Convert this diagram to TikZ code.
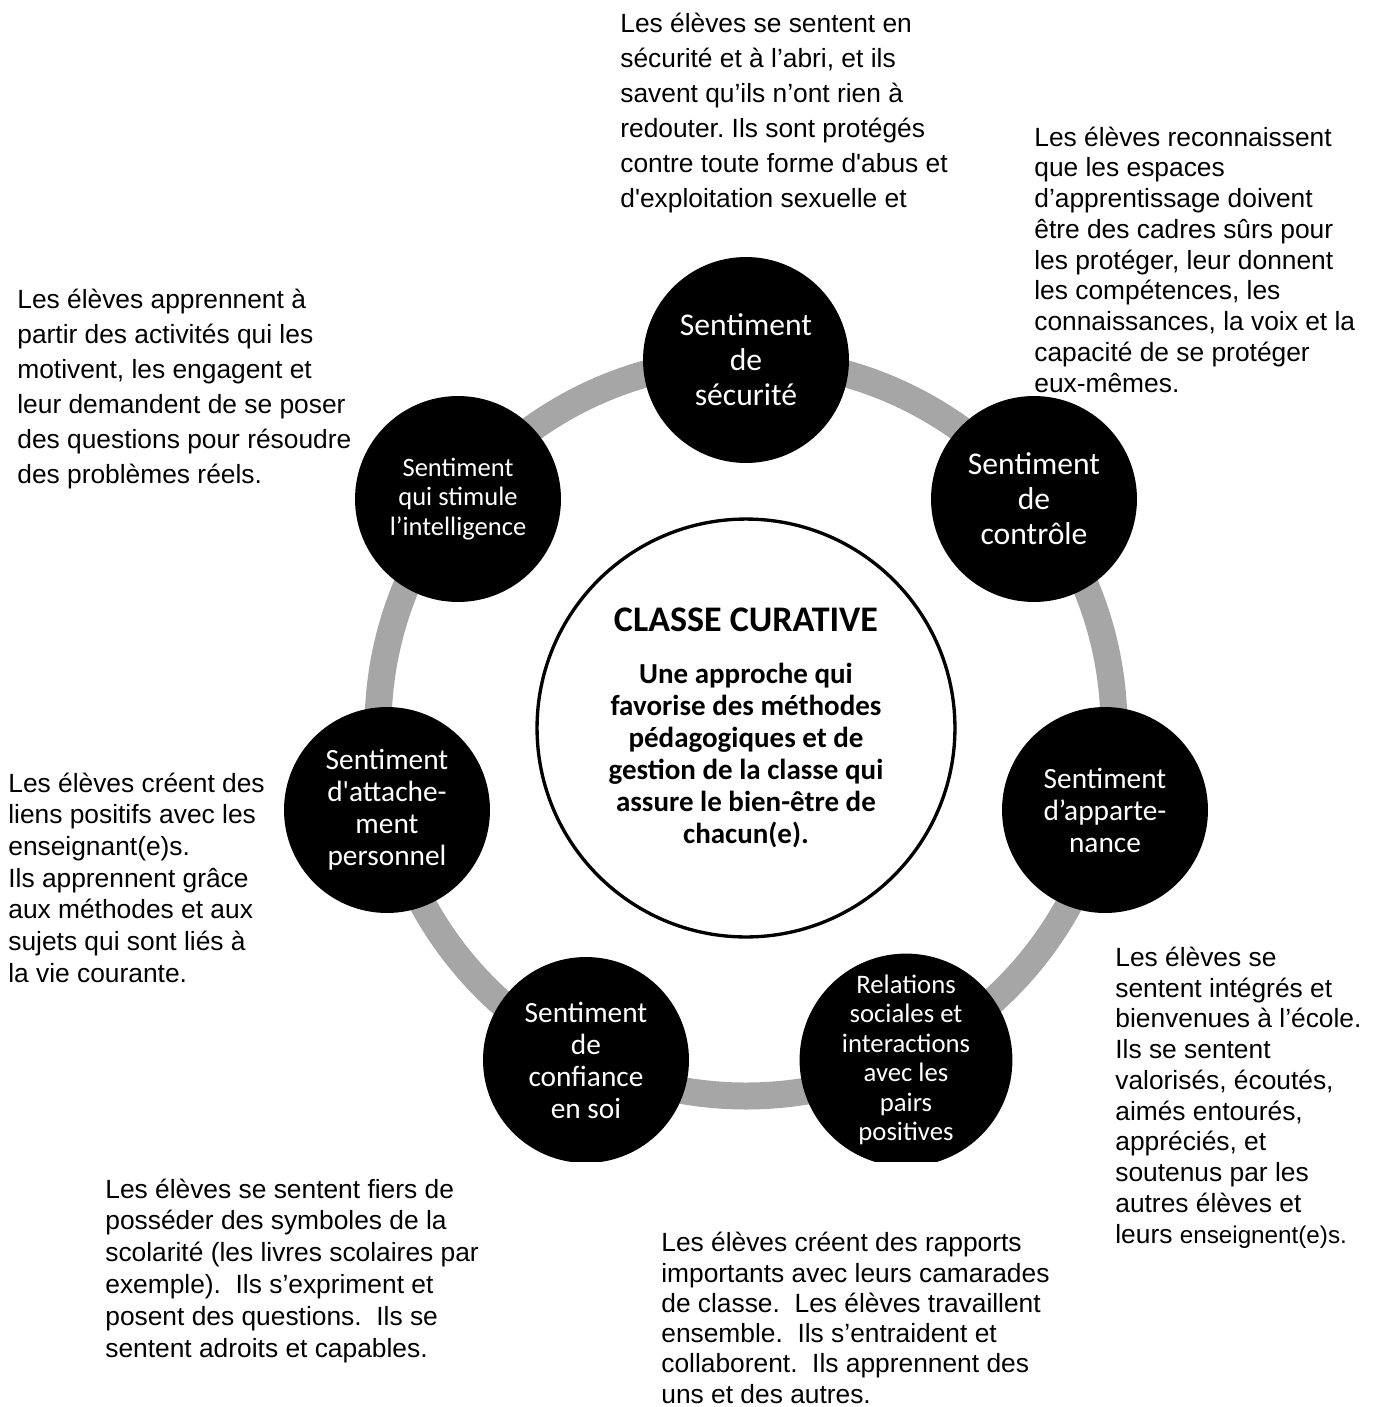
\documentclass[tikz,border=0pt]{standalone}
\usepackage{fontspec}
\setmainfont{Liberation Sans}
\newfontfamily\calibri{Carlito}
\usepackage{tikz}
\definecolor{ringgray}{rgb}{0.65,0.65,0.65}
\frenchspacing

\begin{document}
\begin{tikzpicture}[x=0.02cm,y=-0.02cm,line cap=round,line join=round,
  feel/.style={circle,fill=black,minimum size=4.12cm,inner sep=0pt,text=white,align=center},
  hub/.style={circle,draw=black,line width=1.9pt,fill=white,minimum size=8.36cm,inner sep=0pt,align=center},
  blurb/.style={anchor=base west,align=left,inner sep=0pt}]
\useasboundingbox (0,0) rectangle (1379,1407);
\coordinate (mid) at (746,728);
% grey ring behind the seven discs
\draw [color=ringgray,line width=0.54cm] (mid) circle (368);
\node [hub,font=\calibri\bfseries\fontsize{16.5}{18.2}\selectfont] (hub) at (mid)
  {{\fontsize{20.5}{24}\selectfont CLASSE CURATIVE}\\[11.5pt]
   Une approche qui\\favorise des méthodes\\pédagogiques et de\\gestion de la classe qui\\assure le bien-être de\\chacun(e).};
\begin{scope}
\clip (0,0) rectangle (1379,1161);
\node [feel,font=\calibri\fontsize{18}{19.9}\selectfont] (secu) at (746,360) {Sentiment\\de\\sécurité};
\node [feel,font=\calibri\fontsize{18}{19.9}\selectfont] (controle) at (1034,499) {Sentiment\\de\\contrôle};
\node [feel,font=\calibri\fontsize{16.7}{18.2}\selectfont] (appart) at (1105,810) {Sentiment\\d’apparte-\\nance};
\node [feel,font=\calibri\fontsize{15.2}{16.8}\selectfont] (relations) at (906,1060) {Relations\\sociales et\\interactions\\avec les\\pairs\\positives};
\node [feel,font=\calibri\fontsize{16.7}{18.2}\selectfont] (confiance) at (586,1060) {Sentiment\\de\\confiance\\en soi};
\node [feel,font=\calibri\fontsize{16.7}{18.2}\selectfont] (attache) at (387,810) {Sentiment\\d\textquotesingle attache-\\ment\\personnel};
\node [feel,font=\calibri\fontsize{15.1}{17}\selectfont] (intell) at (458,499) {Sentiment\\qui stimule\\l’intelligence};
\end{scope}
% the descriptions round the ring (placed by their last baseline)
\node [blurb,font=\fontsize{15}{19.9}\selectfont] (securitenote) at (620,207) {Les élèves se sentent en\\sécurité et à l’abri, et ils\\savent qu’ils n’ont rien à\\redouter. Ils sont protégés\\contre toute forme d\textquotesingle abus et\\d\textquotesingle exploitation sexuelle et};
\node [blurb,font=\fontsize{15}{17.5}\selectfont] (controlenote) at (1034,392) {Les élèves reconnaissent\\que les espaces\\d’apprentissage doivent\\être des cadres sûrs pour\\les protéger, leur donnent\\les compétences, les\\connaissances, la voix et la\\capacité de se protéger\\eux-mêmes.};
\node [blurb,font=\fontsize{15}{19.9}\selectfont] (intellnote) at (17,483) {Les élèves apprennent à\\partir des activités qui les\\motivent, les engagent et\\leur demandent de se poser\\des questions pour résoudre\\des problèmes réels.};
\node [blurb,font=\fontsize{15}{18}\selectfont] (attachenote) at (8,982) {Les élèves créent des\\liens positifs avec les\\enseignant(e)s.\\Ils apprennent grâce\\aux méthodes et aux\\sujets qui sont liés à\\la vie courante.};
\node [blurb,font=\fontsize{15}{18.1}\selectfont] (confiancenote) at (105,1357) {Les élèves se sentent fiers de\\posséder des symboles de la\\scolarité (les livres scolaires par\\exemple).~ Ils s’expriment et\\posent des questions.~ Ils se\\sentent adroits et capables.};
\node [blurb,font=\fontsize{15}{17.2}\selectfont] (relationsnote) at (661,1403) {Les élèves créent des rapports\\importants avec leurs camarades\\de classe.~ Les élèves travaillent\\ensemble.~ Ils s’entraident et\\collaborent.~ Ils apprennent des\\uns et des autres.};
\node [blurb,font=\fontsize{15}{17.5}\selectfont] (appartnote) at (1115,1243) {Les élèves se\\sentent intégrés et\\bienvenues à l’école.\\Ils se sentent\\valorisés, écoutés,\\aimés entourés,\\appréciés, et\\soutenus par les\\autres élèves et\\leurs {\fontsize{13.8}{17.5}\selectfont enseignent(e)s.}};
\end{tikzpicture}
\end{document}
